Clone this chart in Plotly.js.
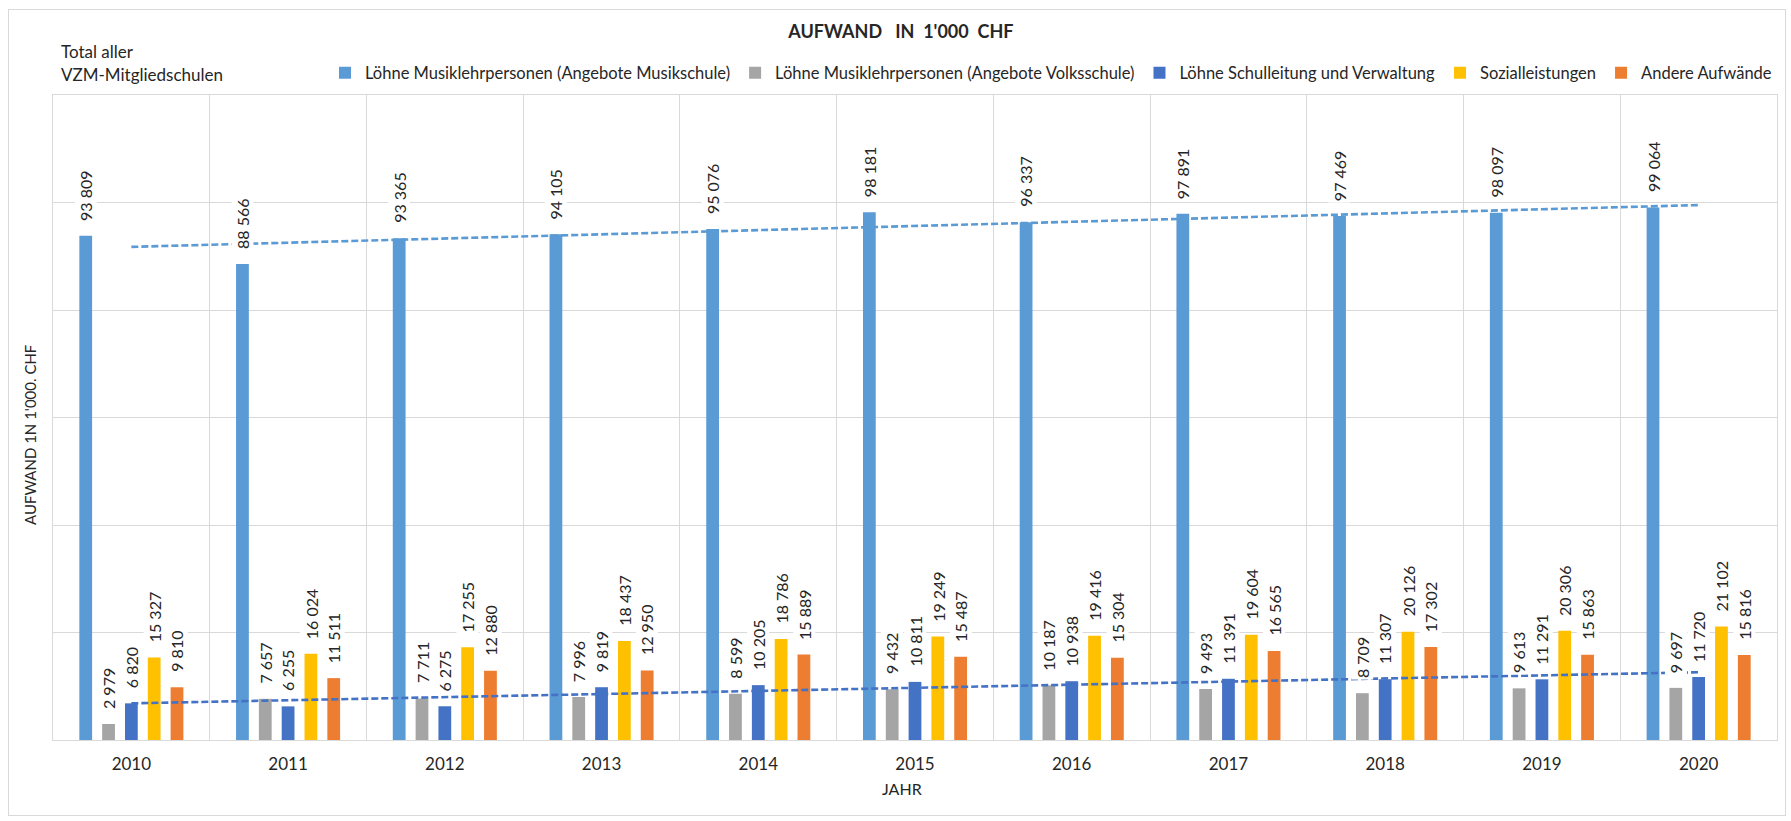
<!DOCTYPE html>
<html>
<head>
<meta charset="utf-8">
<script src="https://cdn.plot.ly/plotly-3.0.1.min.js"></script>
<style>
  html, body { margin: 0; padding: 0; background: #ffffff; }
  #wrap { position: relative; width: 1791px; height: 821px; }
  #chart { width: 1791px; height: 821px; }
  #frame { position: absolute; left: 8px; top: 9px; width: 1778px; height: 807px;
           border: 1px solid #D9D9D9; box-sizing: border-box; pointer-events: none; }
</style>
</head>
<body>
<div id="wrap">
  <div id="chart"></div>
  <div id="frame"></div>
</div>
<script>
// ---- data ----
const years = ['2010','2011','2012','2013','2014','2015','2016','2017','2018','2019','2020'];
const seriesNames = [
  'Löhne Musiklehrpersonen (Angebote Musikschule)',
  'Löhne Musiklehrpersonen (Angebote Volksschule)',
  'Löhne Schulleitung und Verwaltung',
  'Sozialleistungen',
  'Andere Aufwände'
];
const loehneMusikschule = [93809, 88566, 93365, 94105, 95076, 98181, 96337, 97891, 97469, 98097, 99064];
const loehneVolksschule = [2979, 7657, 7711, 7996, 8599, 9432, 10187, 9493, 8709, 9613, 9697];
const loehneSchulleitung = [6820, 6255, 6275, 9819, 10205, 10811, 10938, 11391, 11307, 11291, 11720];
const sozialleistungen = [15327, 16024, 17255, 18437, 18786, 19249, 19416, 19604, 20126, 20306, 21102];
const andereAufwaende = [9810, 11511, 12880, 12950, 15889, 15487, 15304, 16565, 17302, 15863, 15816];

const seriesValues = [loehneMusikschule, loehneVolksschule, loehneSchulleitung, sozialleistungen, andereAufwaende];
const colors = ['#5B9BD5', '#A5A5A5', '#4472C4', '#FFC000', '#ED7D31'];

const FONT = 'Lato, "Open Sans", sans-serif';
const TXT = '#262626';
const BARGAP = 0.272;
const BARGROUPGAP = 0.44;

function fmt(v) { return String(v).replace(/\B(?=(\d{3})+(?!\d))/g, ' '); }

// linear trendline (least squares, like Excel's linear trendline)
function linearTrend(vals) {
  const n = vals.length;
  let sx = 0, sy = 0, sxx = 0, sxy = 0;
  vals.forEach((v, i) => { sx += i; sy += v; sxx += i * i; sxy += i * v; });
  const slope = (n * sxy - sx * sy) / (n * sxx - sx * sx);
  const icpt = (sy - slope * sx) / n;
  return vals.map((_, i) => icpt + slope * i);
}

const traces = seriesValues.map((vals, k) => ({
  type: 'bar',
  name: seriesNames[k],
  x: years,
  y: vals,
  marker: { color: colors[k] },
  hoverinfo: 'x+y+name'
}));

traces.push({
  type: 'scatter', mode: 'lines', x: years, y: linearTrend(loehneMusikschule),
  line: { color: '#5B9BD5', width: 2.6, dash: '7px,3px' },
  showlegend: false, hoverinfo: 'skip'
});
traces.push({
  type: 'scatter', mode: 'lines', x: years, y: linearTrend(loehneSchulleitung),
  line: { color: '#4472C4', width: 2.6, dash: '7px,3px' },
  showlegend: false, hoverinfo: 'skip'
});

// data labels: rotated, above each bar, white background (category index + group offset)
const nSeries = seriesValues.length;
const slot = (1 - BARGAP) / nSeries;
const labelAnns = [];
seriesValues.forEach((vals, k) => {
  const off = (k - (nSeries - 1) / 2) * slot;
  vals.forEach((v, i) => {
    labelAnns.push({
      xref: 'x', yref: 'y', x: i + off, y: v,
      text: fmt(v), textangle: -90,
      xanchor: 'center', yanchor: 'bottom', yshift: 13,
      showarrow: false, bgcolor: '#ffffff', borderpad: 1,
      font: { family: FONT, size: 16, color: TXT }
    });
  });
});

const layout = {
  width: 1791, height: 821,
  margin: { l: 53, r: 14, t: 95, b: 81, pad: 0 },
  paper_bgcolor: '#ffffff', plot_bgcolor: '#ffffff',
  font: { family: FONT, color: TXT },
  title: {
    text: 'AUFWAND\u00A0\u00A0\u00A0IN\u00A0\u00A01\'000\u00A0\u00A0CHF',
    font: { family: FONT, size: 18, weight: 700, color: TXT },
    x: 0.503, xref: 'container', xanchor: 'center',
    y: 1 - 32 / 821, yref: 'container', yanchor: 'middle'
  },
  barmode: 'group',
  bargap: BARGAP,
  bargroupgap: BARGROUPGAP,
  xaxis: {
    type: 'category',
    tickson: 'boundaries',
    showgrid: true, gridcolor: '#D9D9D9', gridwidth: 1,
    showline: true, linecolor: '#D9D9D9', linewidth: 1, mirror: true,
    ticks: '',
    tickfont: { family: FONT, size: 17, color: TXT },
    ticklabelstandoff: 9
  },
  yaxis: {
    range: [0, 120000], dtick: 20000,
    showticklabels: false,
    showgrid: true, gridcolor: '#D9D9D9', gridwidth: 1,
    zeroline: false,
    showline: true, linecolor: '#D9D9D9', linewidth: 1, mirror: true,
    ticks: ''
  },
  legend: {
    orientation: 'h',
    x: 1, xanchor: 'right',
    y: 1 + (95 - 73) / 645, yanchor: 'middle',
    font: { family: FONT, size: 16.5, color: TXT },
    itemwidth: 30,
    bgcolor: 'rgba(0,0,0,0)',
    traceorder: 'normal'
  },
  annotations: [
    { text: 'Total aller', xref: 'paper', yref: 'paper', x: 0.0035, y: (740 - 51) / 645,
      xanchor: 'left', yanchor: 'middle', showarrow: false,
      font: { family: FONT, size: 17, color: TXT } },
    { text: 'VZM-Mitgliedschulen', xref: 'paper', yref: 'paper', x: 0.0035, y: (740 - 75) / 645,
      xanchor: 'left', yanchor: 'middle', showarrow: false,
      font: { family: FONT, size: 17, color: TXT } },
    { text: "AUFWAND 1N 1'000. CHF", xref: 'paper', yref: 'paper', x: (30 - 53) / 1724, y: (740 - 435) / 645,
      xanchor: 'center', yanchor: 'middle', textangle: -90, showarrow: false,
      font: { family: FONT, size: 15, color: TXT } },
    { text: 'JAHR', xref: 'paper', yref: 'paper', x: (902 - 53) / 1724, y: (740 - 788) / 645,
      xanchor: 'center', yanchor: 'middle', showarrow: false,
      font: { family: FONT, size: 16, color: TXT } }
  ].concat(labelAnns)
};

Plotly.newPlot('chart', traces, layout, { displayModeBar: false, staticPlot: true });
</script>
</body>
</html>
